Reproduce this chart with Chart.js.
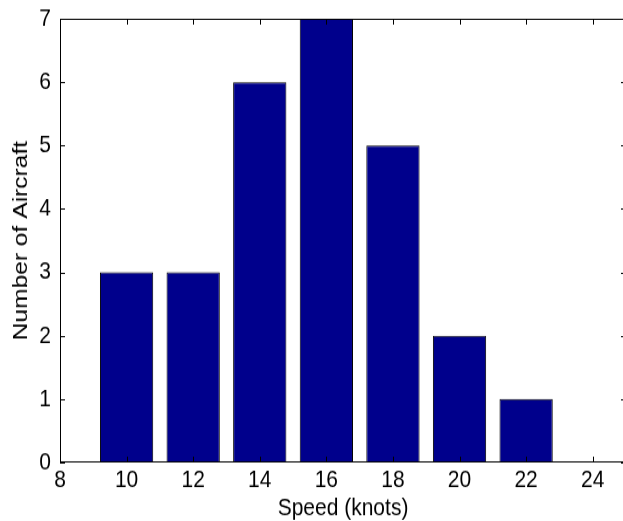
<!DOCTYPE html>
<html>
<head>
    <meta charset="UTF-8">
    <title>Aircraft Speed Histogram</title>
    <script src="https://cdn.jsdelivr.net/npm/chart.js"></script>
    <style>
        html, body { margin: 0; width: 623px; height: 521px; overflow: hidden; background: #fff; }
        #page { position: relative; width: 623px; height: 521px; overflow: hidden; }
        /* the source image is stretched a bit vertically, so stretch the canvas too */
        #chart { position: absolute; left: 0; top: 0; transform: scale(1, 1.1708); transform-origin: 0 0; }
    </style>
</head>
<body>
<div id="page"><canvas id="chart" width="640" height="445"></canvas></div>

<script>
    // histogram data (speed bins in knots, count of aircraft)
    var speeds = [8, 10, 12, 14, 16, 18, 20, 22, 24];
    var counts = [0, 3, 3, 6, 7, 5, 2, 1, 0];
    var xTicks = [8, 10, 12, 14, 16, 18, 20, 22, 24];
    var yTicks = [0, 1, 2, 3, 4, 5, 6, 7];

    var points = speeds.map(function (s, i) { return { x: s, y: counts[i] }; });

    // frame + inward ticks like matlab axes
    var boxPlugin = {
        id: 'box',
        afterDraw: function (chart) {
            var ctx = chart.ctx, a = chart.chartArea;
            var xs = chart.scales.x, ys = chart.scales.y;
            ctx.save();
            ctx.strokeStyle = '#000';
            ctx.lineWidth = 1;
            ctx.strokeRect(a.left + 0.5, a.top + 0.5, a.right - a.left - 1, a.bottom - a.top - 1);
            ctx.beginPath();
            xTicks.forEach(function (v) {
                var px = Math.round(xs.getPixelForValue(v)) + 0.5;
                ctx.moveTo(px, a.bottom); ctx.lineTo(px, a.bottom - 5);
                ctx.moveTo(px, a.top); ctx.lineTo(px, a.top + 5);
            });
            yTicks.forEach(function (v) {
                var py = Math.round(ys.getPixelForValue(v)) + 0.5;
                ctx.moveTo(a.left, py); ctx.lineTo(a.left + 5, py);
                ctx.moveTo(a.right, py); ctx.lineTo(a.right - 5, py);
            });
            ctx.stroke();
            ctx.restore();
        }
    };

    var font = { family: 'Liberation Sans, Arial, sans-serif', size: 21 };

    var ctx = document.getElementById('chart').getContext('2d');
    var chart = new Chart(ctx, {
        type: 'bar',
        data: {
            datasets: [{
                data: points,
                backgroundColor: '#00008C',
                borderColor: '#000',
                borderWidth: 1,
                borderSkipped: false,
                barPercentage: 0.8,
                categoryPercentage: 1.0
            }]
        },
        options: {
            responsive: false,
            animation: false,
            layout: { padding: { top: 16, right: 14, left: 0, bottom: 0 } },
            plugins: { legend: { display: false }, tooltip: { enabled: false } },
            scales: {
                x: {
                    type: 'linear',
                    min: 8,
                    max: 25,
                    offset: false,
                    grid: { display: false, drawTicks: false },
                    border: { display: false },
                    afterBuildTicks: function (s) {
                        s.ticks = xTicks.map(function (v) { return { value: v }; });
                    },
                    afterFit: function (s) { s.height = 50; },
                    ticks: { color: '#000', font: font, padding: 3, maxRotation: 0, autoSkip: false },
                    title: { display: true, text: 'Speed (knots)', color: '#000', font: font, padding: { top: 0, bottom: -2 } }
                },
                y: {
                    min: 0,
                    max: 7,
                    grid: { display: false, drawTicks: false },
                    border: { display: false },
                    afterBuildTicks: function (s) {
                        s.ticks = yTicks.map(function (v) { return { value: v }; });
                    },
                    afterFit: function (s) {
                        s.width = 60;
                        s.paddingTop = 0;
                        s.paddingBottom = 0;
                    },
                    ticks: { color: '#000', font: font, padding: 9 },
                    title: { display: true, text: 'Number of Aircraft', color: '#000', font: font, padding: { top: 9, bottom: 0 } }
                }
            }
        },
        plugins: [boxPlugin]
    });
</script>
</body>
</html>
